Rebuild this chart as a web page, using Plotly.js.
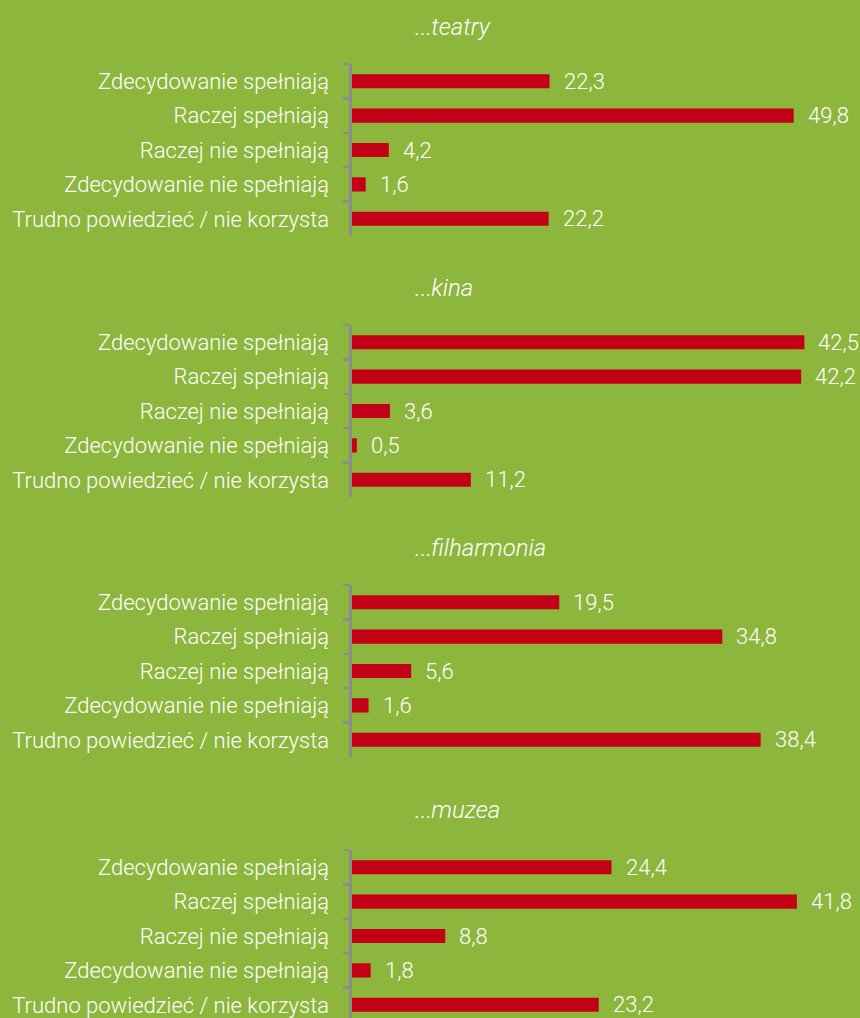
<!DOCTYPE html>
<html>
<head>
<meta charset="utf-8">
<script src="https://cdn.plot.ly/plotly-3.0.1.min.js"></script>
<style>html,body{margin:0;padding:0;background:#8cb63c;}#chart{width:860px;height:1018px;}</style>
</head>
<body>
<div id="chart"></div>
<script>
const categories = ['Zdecydowanie spełniają','Raczej spełniają','Raczej nie spełniają','Zdecydowanie nie spełniają','Trudno powiedzieć / nie korzysta'];
const panelTitles = ['teatry','kina','filharmonia','muzea'];
const teatry = [22.3,49.8,4.2,1.6,22.2];
const kina = [42.5,42.2,3.6,0.5,11.2];
const filharmonia = [19.5,34.8,5.6,1.6,38.4];
const muzea = [24.4,41.8,8.8,1.8,23.2];
const series = [teatry,kina,filharmonia,muzea];

const W = 860, H = 1018;
const BG = '#8cb63c', BAR = '#c40016', AX = '#8c8c8c';
const FONT = 'Roboto, "Open Sans", sans-serif';
const panelTopPx = [64, 325, 585, 850];
const titlePx = [27, 288, 548, 810];
const bandPx = 34.4;
const xRanges = [[0,54],[0,45],[0,45],[0,45]];
const xLeft = 351.5, xRight = 831;
const FS = 22;

const data = [];
const annotations = [];
const layout = {
  width: W, height: H,
  paper_bgcolor: BG, plot_bgcolor: BG,
  margin: {l:0,r:0,t:0,b:0},
  showlegend: false,
  font: {family: FONT, color: '#ffffff', size: FS, weight: 300},
  annotations: annotations
};
const fmt = v => v.toFixed(1).replace('.', ',');

series.forEach((vals, i) => {
  const n = i === 0 ? '' : String(i+1);
  const xa = 'x' + n, ya = 'y' + n;
  data.push({
    type: 'bar', orientation: 'h',
    x: vals, y: categories,
    xaxis: xa, yaxis: ya,
    width: 0.41,
    marker: {color: BAR, line: {width: 0}},
    hoverinfo: 'none'
  });
  const top = panelTopPx[i];
  let bottom = top + bandPx * categories.length;
  let yr = [categories.length - 0.5, -0.5];
  if (bottom > H) {
    const visible = (H - top) / bandPx;
    yr = [-0.5 + visible, -0.5];
    bottom = H;
  }
  layout['xaxis' + n] = {
    domain: [xLeft / W, xRight / W],
    range: xRanges[i],
    anchor: ya,
    visible: false,
    fixedrange: true
  };
  layout['yaxis' + n] = {
    domain: [1 - bottom / H, 1 - top / H],
    range: yr,
    anchor: xa,
    type: 'category',
    showline: true, linecolor: AX, linewidth: 3,
    ticks: 'outside', tickson: 'boundaries', ticklen: 6, tickwidth: 2.5, tickcolor: AX,
    ticklabelstandoff: 15,
    showgrid: false, zeroline: false,
    tickfont: {family: FONT, color: '#ffffff', size: FS, weight: 300},
    fixedrange: true
  };
  vals.forEach((v, j) => {
    annotations.push({
      xref: xa, yref: ya, x: v, y: categories[j],
      text: fmt(v), showarrow: false,
      xanchor: 'left', yanchor: 'middle', xshift: 12,
      font: {family: FONT, color: '#ffffff', size: FS, weight: 300}
    });
  });
  annotations.push({
    xref: 'paper', yref: 'paper',
    x: 412 / W, y: 1 - titlePx[i] / H,
    xanchor: 'left', yanchor: 'middle',
    text: '...<i>' + panelTitles[i] + '</i>', showarrow: false,
    font: {family: FONT, color: '#ffffff', size: 24, weight: 300}
  });
});

Plotly.newPlot('chart', data, layout, {displayModeBar: false, staticPlot: true});
</script>
</body>
</html>
